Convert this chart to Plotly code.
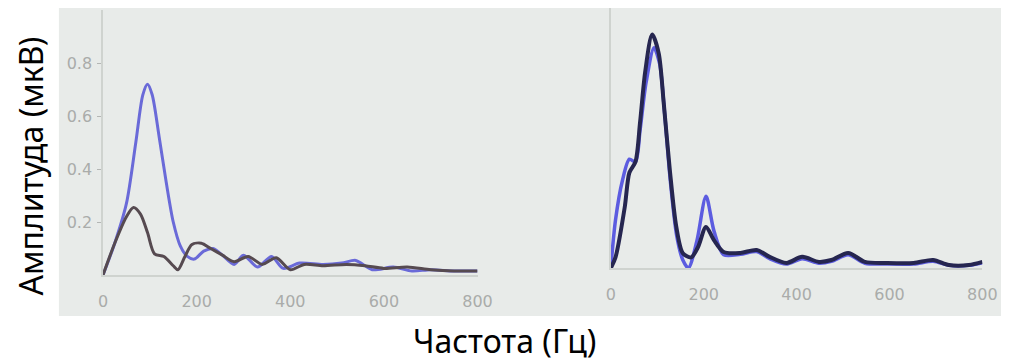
import plotly.graph_objects as go

# ---- data ----
left_blue_f = [0, 25, 50, 70, 85, 95, 105, 120, 135, 150, 165, 180, 195, 215, 235, 255, 280, 300,
               330, 360, 385, 420, 470, 510, 540, 575, 620, 660, 700, 750, 800]
left_blue_v = [0.0, 0.12, 0.27, 0.50, 0.68, 0.72, 0.68, 0.52, 0.35, 0.20, 0.11, 0.07, 0.06, 0.09, 0.10,
               0.075, 0.04, 0.075, 0.03, 0.07, 0.025, 0.045, 0.04, 0.045, 0.055, 0.02, 0.03, 0.015, 0.02,
               0.015, 0.015]

left_dark_f = [0, 25, 50, 65, 80, 95, 110, 130, 150, 160, 175, 190, 210, 230, 255, 280, 310, 340,
               370, 400, 430, 470, 520, 560, 600, 650, 700, 750, 800]
left_dark_v = [0.0, 0.12, 0.22, 0.255, 0.23, 0.16, 0.08, 0.07, 0.035, 0.02, 0.07, 0.115, 0.12, 0.10,
               0.075, 0.05, 0.07, 0.04, 0.065, 0.02, 0.04, 0.035, 0.04, 0.035, 0.025, 0.03, 0.02,
               0.015, 0.015]

right_dark_f = [0, 10, 30, 40, 53, 63, 74, 89, 103, 114, 127, 141, 155, 173, 188, 205, 222, 243,
                279, 314, 342, 378, 412, 448, 475, 511, 547, 595, 652, 694, 728, 771, 800]
right_dark_v = [0.0, 0.04, 0.23, 0.36, 0.40, 0.55, 0.74, 0.88, 0.81, 0.62, 0.37, 0.155, 0.056, 0.04,
                0.08, 0.155, 0.105, 0.06, 0.057, 0.068, 0.042, 0.019, 0.042, 0.023, 0.03, 0.057,
                0.023, 0.019, 0.019, 0.03, 0.011, 0.011, 0.023]

right_blue_f = [0, 10, 25, 40, 53, 63, 76, 93, 105, 116, 128, 142, 155, 167, 185, 205, 222, 243,
                279, 314, 342, 378, 412, 448, 475, 511, 547, 595, 652, 694, 728, 771, 800]
right_blue_v = [0.0, 0.18, 0.33, 0.41, 0.40, 0.52, 0.70, 0.83, 0.77, 0.58, 0.33, 0.12, 0.03, 0.0,
                0.10, 0.27, 0.14, 0.05, 0.052, 0.062, 0.035, 0.015, 0.035, 0.018, 0.025, 0.05,
                0.018, 0.015, 0.015, 0.025, 0.01, 0.01, 0.02]

x_ticks = [0, 200, 400, 600, 800]
y_ticks = [0.2, 0.4, 0.6, 0.8]
y_tick_text = ["0.2", "0.4", "0.6", "0.8"]

W, H = 1016, 361

fig = go.Figure()
fig.add_trace(go.Scatter(x=left_blue_f, y=left_blue_v, mode="lines", line=dict(color="#6a6ad8", width=3, shape="spline", smoothing=0.8),
                         xaxis="x", yaxis="y", showlegend=False))
fig.add_trace(go.Scatter(x=left_dark_f, y=left_dark_v, mode="lines", line=dict(color="#564a50", width=3, shape="spline", smoothing=0.8),
                         xaxis="x", yaxis="y", showlegend=False))
fig.add_trace(go.Scatter(x=right_blue_f, y=right_blue_v, mode="lines", line=dict(color="#5c5ce0", width=3.5, shape="spline", smoothing=0.8),
                         xaxis="x2", yaxis="y2", showlegend=False))
fig.add_trace(go.Scatter(x=right_dark_f, y=right_dark_v, mode="lines", line=dict(color="#262650", width=4, shape="spline", smoothing=0.8),
                         xaxis="x2", yaxis="y2", showlegend=False))

tickfont = dict(family="DejaVu Sans", size=16, color="#aaacaa")
axline = "#cfd3cf"

fig.update_layout(
    width=W, height=H,
    margin=dict(l=0, r=0, t=0, b=0),
    paper_bgcolor="white",
    plot_bgcolor="rgba(0,0,0,0)",
    shapes=[dict(type="rect", xref="paper", yref="paper", x0=55 / W, x1=1, y0=1 - 316 / H, y1=1 - 8 / H,
                 fillcolor="#e8ebe9", line=dict(width=0), layer="below")],
    xaxis=dict(domain=[100 / W, 482 / W], range=[0, 800], tickvals=x_ticks, showgrid=False, zeroline=False,
               showline=True, linecolor=axline, linewidth=1.5, ticks="", tickfont=tickfont, ticklabelstandoff=11),
    yaxis=dict(domain=[(H - 275) / H, (H - 10) / H], range=[0, 1.0], tickvals=y_ticks, ticktext=y_tick_text,
               showgrid=False, zeroline=False, showline=True, linecolor=axline, linewidth=1.5,
               ticks="outside", ticklen=4, tickcolor="#b4b6b4", tickfont=tickfont, ticklabelstandoff=2),
    xaxis2=dict(domain=[618 / W, 997 / W], range=[0, 800], tickvals=x_ticks, showgrid=False, zeroline=False,
                showline=True, linecolor=axline, linewidth=1.5, ticks="", tickfont=tickfont, ticklabelstandoff=11),
    yaxis2=dict(domain=[(H - 268) / H, (H - 8) / H], range=[0, 0.98], showticklabels=False, showgrid=False,
                zeroline=False, showline=True, linecolor=axline, linewidth=1.5, anchor="x2"),
    annotations=[
        dict(text="Амплитуда (мкВ)", xref="paper", yref="paper", x=25 / W, y=1 - 166 / H, showarrow=False,
             textangle=-90, font=dict(family="Noto Sans", size=32, color="black"), xanchor="center", yanchor="middle"),
        dict(text="Частота (Гц)", xref="paper", yref="paper", x=510 / W, y=1 - 340 / H, showarrow=False,
             font=dict(family="Noto Sans", size=32, color="black"), xanchor="center", yanchor="middle"),
    ],
)
fig.update_layout(xaxis2_anchor="y2")

fig.write_html("out.html", config={"displayModeBar": False},
               post_script="document.body.style.margin='0';document.body.style.overflow='hidden';")
